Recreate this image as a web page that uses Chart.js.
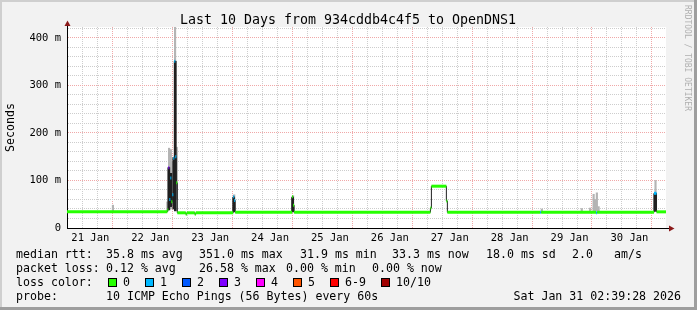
<!DOCTYPE html>
<html>
<head>
<meta charset="utf-8">
<script src="https://cdn.jsdelivr.net/npm/chart.js@4.4.1/dist/chart.umd.min.js"></script>
<style>
  html, body { margin: 0; padding: 0; background: #f2f2f2; }
  canvas { display: block; }
</style>
</head>
<body>
<canvas id="chart" width="697" height="310"></canvas>
<script>
// x values are hours since 21 Jan 00:00 - graph covers 21 Jan 02:39 .. 31 Jan 02:39
const startHour = 2.65;
const endHour = 242.65;

const dayLabels = ['21 Jan', '22 Jan', '23 Jan', '24 Jan', '25 Jan', '26 Jan', '27 Jan', '28 Jan', '29 Jan', '30 Jan'];
const yMax = 423;

// median rtt in ms, each value holds until the next hour entry
const medianHours = [2.65, 42.85, 43.25, 43.65, 44.05, 44.45, 44.85, 45.25, 45.65, 46.05, 46.45, 46.85, 50.25, 50.65, 53.85, 54.25,
  69.25, 69.65, 70.05, 92.85, 93.25, 93.65, 148.25, 148.65, 154.65, 155.05, 192.25, 192.65, 214.65, 215.05, 237.85, 238.85];
const medianMs = [34, 38, 127, 60, 105, 55, 70, 147, 351, 150, 95, 32, 29, 32, 29, 32,
  66, 58, 33, 66, 48, 33, 42, 88, 57, 33, 33, 33, 32, 33, 73, 34];
const medianLoss = [0, 0, 3, 1, 1, 0, 1, 1, 1, 1, 0, 0, 0, 0, 0, 0,
  1, 1, 0, 0, 0, 0, 0, 0, 0, 0, 1, 0, 1, 0, 1, 0];

// light smoke (spread of the pings)
const smokeHours = [21.05, 42.85, 43.55, 44.25, 44.75, 45.95, 46.65, 69.65, 93.25, 192.9, 208.9, 212.25, 213.65, 214.25, 214.95, 215.65, 238.45];
const smokeLow = [33, 36, 40, 40, 50, 60, 60, 35, 35, 33, 34, 36, 36, 36, 36, 36, 38];
const smokeHigh = [48, 55, 168, 165, 140, 423, 170, 70, 68, 40, 41, 42, 71, 60, 74, 45, 100];

// dense smoke
const denseHours = [43.45, 44.25, 45.45, 46.05, 69.45, 93.05, 238.25];
const denseLow = [38, 45, 40, 36, 34, 34, 35];
const denseHigh = [127, 115, 148, 351, 64, 64, 72];

const lossColors = ['#26ff00', '#00b8ff', '#0059ff', '#7e00ff', '#ff00ff', '#ff5500', '#ff0000', '#a10000'];
const lossLabels = ['0', '1', '2', '3', '4', '5', '6-9', '10/10'];

const monoFont = "'DejaVu Sans Mono', monospace";

// median as flat pieces only (colour by loss), black steps go underneath
var medianPts = [];
var medianPtLoss = [];
for (let i = 0; i < medianHours.length; i++) {
  const next = i + 1 < medianHours.length ? medianHours[i + 1] : endHour;
  medianPts.push({x: medianHours[i], y: medianMs[i]}, {x: next, y: medianMs[i]}, {x: next, y: null});
  medianPtLoss.push(medianLoss[i], medianLoss[i], medianLoss[i]);
}
var stepPts = medianHours.map((h, i) => ({x: h, y: medianMs[i]}));
stepPts.push({x: endHour, y: medianMs[medianMs.length - 1]});

function txt(ctx, s, x, y) {
  ctx.fillText(s, x, y);
}

const rrdDecor = {
  id: 'rrdDecor',
  beforeDraw(chart) {
    const ctx = chart.ctx, a = chart.chartArea;
    const w = chart.width, h = chart.height;
    ctx.save();
    ctx.fillStyle = '#f2f2f2';
    ctx.fillRect(0, 0, w, h);
    // frame
    ctx.fillStyle = '#cfcfcf';
    ctx.fillRect(0, 0, w, 2);
    ctx.fillRect(0, 0, 2, h);
    ctx.fillStyle = '#9e9e9e';
    ctx.fillRect(0, h - 3, w, 3);
    ctx.fillRect(w - 3, 0, 3, h);
    ctx.fillStyle = '#ffffff';
    ctx.fillRect(a.left, a.top, a.right - a.left, a.bottom - a.top);
    ctx.restore();
  },
  afterDraw(chart) {
    const ctx = chart.ctx, a = chart.chartArea;
    ctx.save();
    // axis extensions + arrows
    ctx.strokeStyle = '#000';
    ctx.lineWidth = 1;
    ctx.beginPath();
    ctx.moveTo(a.left + 0.5, a.top);
    ctx.lineTo(a.left + 0.5, a.top - 2);
    ctx.moveTo(a.right, a.bottom + 0.5);
    ctx.lineTo(a.right + 3, a.bottom + 0.5);
    ctx.stroke();
    ctx.fillStyle = '#8b1a1a';
    ctx.beginPath();
    ctx.moveTo(a.left + 0.5, a.top - 6.5);
    ctx.lineTo(a.left + 3.5, a.top - 1);
    ctx.lineTo(a.left - 2.5, a.top - 1);
    ctx.closePath();
    ctx.fill();
    ctx.beginPath();
    ctx.moveTo(a.right + 8.5, a.bottom + 0.5);
    ctx.lineTo(a.right + 3, a.bottom - 2.5);
    ctx.lineTo(a.right + 3, a.bottom + 3.5);
    ctx.closePath();
    ctx.fill();

    // title
    ctx.fillStyle = '#000';
    ctx.font = '13.3px ' + monoFont;
    ctx.textAlign = 'center';
    ctx.textBaseline = 'alphabetic';
    txt(ctx, 'Last 10 Days from 934cddb4c4f5 to OpenDNS1', 348, 24);

    // vertical label
    ctx.font = '11.6px ' + monoFont;
    ctx.save();
    ctx.translate(14, (a.top + a.bottom) / 2);
    ctx.rotate(-Math.PI / 2);
    ctx.textBaseline = 'alphabetic';
    txt(ctx, 'Seconds', 0, 0);
    ctx.restore();

    // watermark on the right
    ctx.save();
    ctx.fillStyle = '#b0b0b0';
    ctx.font = '8px ' + monoFont;
    ctx.translate(685, 5);
    ctx.rotate(Math.PI / 2);
    ctx.textAlign = 'left';
    txt(ctx, 'RRDTOOL / TOBI OETIKER', 0, 0);
    ctx.restore();

    // legend rows
    ctx.textAlign = 'left';
    ctx.font = '11.6px ' + monoFont;
    txt(ctx, 'median rtt:', 16, 258);
    txt(ctx, '35.8 ms avg', 106, 258);
    txt(ctx, '351.0 ms max', 199, 258);
    txt(ctx, '31.9 ms min', 300, 258);
    txt(ctx, '33.3 ms now', 392, 258);
    txt(ctx, '18.0 ms sd', 486, 258);
    txt(ctx, '2.0', 572, 258);
    txt(ctx, 'am/s', 614, 258);

    txt(ctx, 'packet loss:', 16, 272);
    txt(ctx, '0.12 % avg', 106, 272);
    txt(ctx, '26.58 % max', 199, 272);
    txt(ctx, '0.00 % min', 286, 272);
    txt(ctx, '0.00 % now', 372, 272);

    txt(ctx, 'loss color:', 16, 286);
    const boxX = [108, 145, 182, 219, 256, 293, 330, 381];
    for (let i = 0; i < lossColors.length; i++) {
      ctx.fillStyle = lossColors[i];
      ctx.fillRect(boxX[i], 278, 8, 8);
      ctx.strokeStyle = '#000';
      ctx.strokeRect(boxX[i] + 0.5, 278.5, 8, 8);
      ctx.fillStyle = '#000';
      txt(ctx, lossLabels[i], boxX[i] + 15, 286);
    }

    txt(ctx, 'probe:', 16, 300);
    txt(ctx, '10 ICMP Echo Pings (56 Bytes) every 60s', 106, 300);
    ctx.textAlign = 'right';
    txt(ctx, 'Sat Jan 31 02:39:28 2026', 681, 300);
    ctx.restore();
  }
};

const chartElement = document.getElementById('chart');

const smokeChart = new Chart(chartElement, {
  type: 'line',
  data: {
    datasets: [
      {
        type: 'bar',
        label: 'smoke',
        data: smokeHours.map((h, i) => ({x: h, y: [smokeLow[i], smokeHigh[i]]})),
        backgroundColor: '#b4b4b4',
        borderWidth: 0,
        barThickness: 1.5,
        stack: 'smoke',
        order: 4
      },
      {
        type: 'bar',
        label: 'dense',
        data: denseHours.map((h, i) => ({x: h, y: [denseLow[i], denseHigh[i]]})),
        backgroundColor: '#202020',
        borderWidth: 0,
        barThickness: 2,
        stack: 'smoke',
        order: 3
      },
      {
        label: 'median steps',
        data: stepPts,
        stepped: true,
        borderColor: '#202020',
        borderWidth: 1,
        pointRadius: 0,
        fill: false,
        order: 2
      },
      {
        label: 'median',
        data: medianPts,
        borderColor: lossColors[0],
        borderWidth: 3,
        borderCapStyle: 'butt',
        pointRadius: 0,
        fill: false,
        spanGaps: false,
        segment: {
          borderColor: ctx => lossColors[medianPtLoss[ctx.p0DataIndex]]
        },
        order: 1
      }
    ]
  },
  options: {
    responsive: false,
    animation: false,
    events: [],
    layout: { padding: { top: 27, right: 31, bottom: 62, left: 0 } },
    plugins: {
      legend: { display: false },
      tooltip: { enabled: false },
      title: { display: false }
    },
    scales: {
      x: {
        type: 'linear',
        min: startHour,
        max: endHour,
        offset: false,
        afterBuildTicks: scale => {
          var t = [];
          for (let v = 6; v < endHour; v += 6) t.push({value: v});
          scale.ticks = t;
        },
        afterFit: scale => { scale.height = 20; },
        ticks: {
          autoSkip: false,
          maxRotation: 0,
          padding: 4,
          color: '#000',
          font: { family: monoFont, size: 10.5 },
          callback: v => (v % 24 === 12 ? dayLabels[(v - 12) / 24] : '')
        },
        grid: {
          drawTicks: false,
          lineWidth: 1,
          color: ctx => (ctx.tick && ctx.tick.value % 24 === 0 ? '#f0a8a8' : '#cdcdcd')
        },
        border: { color: '#000', width: 1, dash: [1, 1] }
      },
      y: {
        min: 0,
        max: yMax,
        stacked: false,
        afterBuildTicks: scale => {
          var t = [];
          for (let v = 0; v <= 420; v += 20) t.push({value: v});
          scale.ticks = t;
        },
        afterFit: scale => { scale.width = 67; },
        ticks: {
          autoSkip: false,
          padding: 6,
          color: '#000',
          font: { family: monoFont, size: 10.5 },
          callback: v => (v === 0 ? '0' : (v % 100 === 0 ? v + ' m' : ''))
        },
        grid: {
          drawTicks: false,
          lineWidth: 1,
          color: ctx => (ctx.tick && ctx.tick.value % 100 === 0 ? '#f0a8a8' : '#cdcdcd')
        },
        border: { color: '#000', width: 1, dash: [1, 1] }
      }
    }
  },
  plugins: [rrdDecor]
});
</script>
</body>
</html>
